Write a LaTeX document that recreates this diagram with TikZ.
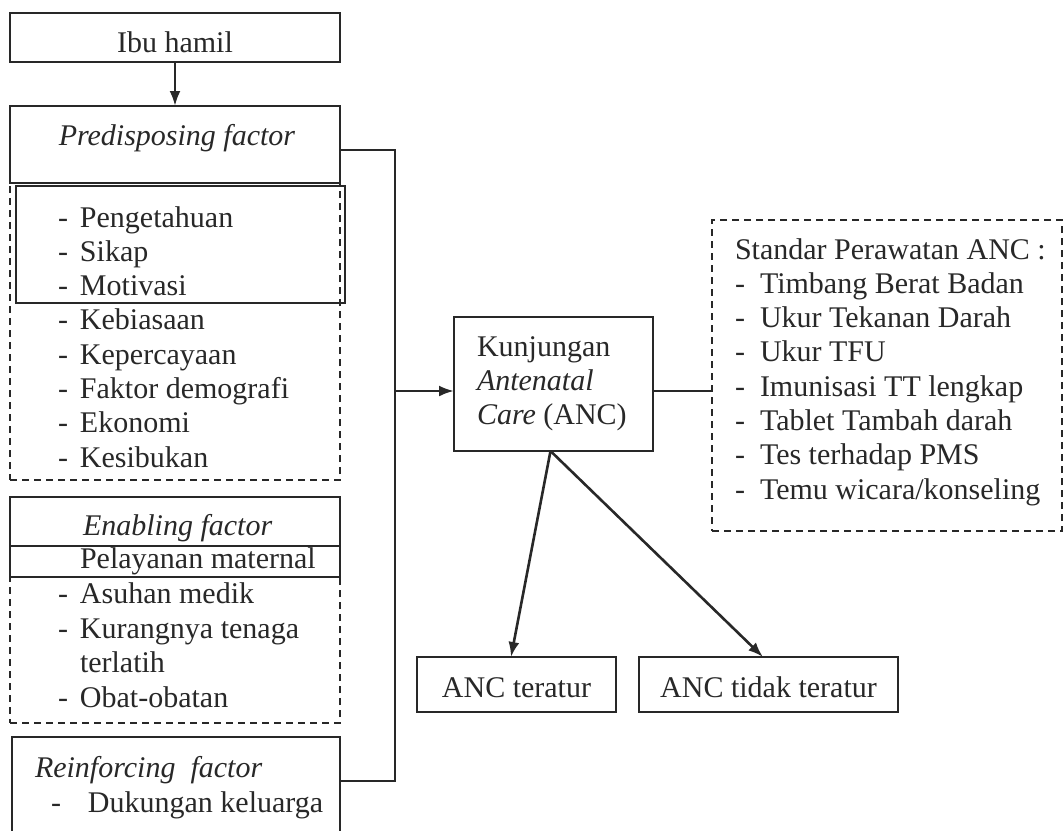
\documentclass[tikz,border=0pt]{standalone}
\usepackage{fontspec}
\setmainfont{Liberation Serif}
\usetikzlibrary{arrows.meta}
\definecolor{ink}{RGB}{40,40,40}
\begin{document}
\begin{tikzpicture}[x=1pt,y=-1pt,
  line width=2.6pt, draw=ink,
  font=\fontsize{30}{34.5}\selectfont,
  box/.style={draw=ink, line width=2.6pt, inner sep=0pt, outer sep=0pt},
  dbox/.style={draw=ink, line width=2.3pt, dash pattern=on 7pt off 5pt, inner sep=0pt, outer sep=0pt},
  txt/.style={inner sep=0pt, outer sep=0pt, anchor=base west, text=ink},
  ctxt/.style={inner sep=0pt, outer sep=0pt, anchor=base, text=ink},
  arr/.style={-{Latex[length=15pt,width=11pt]}}]
\fill[white] (0,0) rectangle (1064,830);
\useasboundingbox (0,0) rectangle (1064,830);

% ---- boxes ----
\node[box, minimum width=330pt, minimum height=49pt] (ibu) at (175,37.5) {};
\node[box, minimum width=330pt, minimum height=77pt] (pred) at (175,144.5) {};
\node[dbox, minimum width=330pt, minimum height=297pt] (predd) at (175,331.5) {};
\node[box, minimum width=329pt, minimum height=117pt] (predin) at (180.5,244.5) {};
\node[box, minimum width=330pt, minimum height=49pt] (enab) at (175,521.5) {};
\node[box, minimum width=330pt, minimum height=31pt] (pel) at (175,561.5) {};
\node[dbox, minimum width=330pt, minimum height=146pt] (enabd) at (175,650) {};
\node[box, minimum width=328pt, minimum height=143pt] (reinf) at (176,808.5) {};
\node[box, minimum width=199pt, minimum height=134pt] (kunj) at (553.5,384) {};
\node[dbox, minimum width=350pt, minimum height=311pt] (std) at (887,375.5) {};
\node[box, minimum width=199pt, minimum height=55pt] (t1) at (516.5,684.5) {};
\node[box, minimum width=259pt, minimum height=55pt] (t2) at (768.5,684.5) {};

% ---- texts ----
\node[ctxt] (ibuT) at (175,52) {Ibu hamil};
\node[ctxt] (predT) at (177,145) {\textit{Predisposing factor}};
\foreach \t [count=\k from 0] in {Pengetahuan,Sikap,Motivasi,Kebiasaan,Kepercayaan,Faktor demografi,Ekonomi,Kesibukan}{
  \node[txt] (pd\k) at (58,227+34.3*\k) {\makebox[22pt][l]{-}\t};
}
\node[txt] (enabT) at (83,535) {\textit{Enabling factor}};
\node[txt] (pelT) at (80,568) {Pelayanan maternal};
\node[txt] (en1) at (58,603) {\makebox[22pt][l]{-}Asuhan medik};
\node[txt] (en2) at (58,638) {\makebox[22pt][l]{-}Kurangnya tenaga};
\node[txt] (en3) at (80,672) {terlatih};
\node[txt] (en4) at (58,707) {\makebox[22pt][l]{-}Obat-obatan};
\node[txt] (reinfT) at (35,777) {\textit{Reinforcing\ \ factor}};
\node[txt] (reinf1) at (51,812) {\makebox[37pt][l]{-}Dukungan keluarga};

\node[txt] (k1) at (477,356) {Kunjungan};
\node[txt] (k2) at (477,390) {\textit{Antenatal}};
\node[txt] (k3) at (477,424) {\textit{Care} (ANC)};

\node[txt] (s0) at (735,259) {Standar Perawatan ANC :};
\foreach \t [count=\k from 1] in {Timbang Berat Badan,Ukur Tekanan Darah,Ukur TFU,Imunisasi TT lengkap,Tablet Tambah darah,Tes terhadap PMS,Temu wicara/konseling}{
  \node[txt] (s\k) at (735,259+34.3*\k) {\makebox[25pt][l]{-}\t};
}

\node[ctxt] (t1T) at (516.5,697) {ANC teratur};
\node[ctxt] (t2T) at (768.5,697) {ANC tidak teratur};

% ---- connectors ----
\coordinate (busT) at (395,150);
\coordinate (busM) at (395,391);
\coordinate (busB) at (395,781);
\draw[arr] (ibu.south) -- (pred.north);
\draw (pred.east |- busT) -- (busT) -- (busB) -- (reinf.east |- busB);
\draw[arr] (busM) -- (kunj.west |- busM);
\draw (kunj.east |- busM) -- (std.west |- busM);
\draw[arr] ([xshift=-3pt]kunj.south) -- ([xshift=-5.5pt]t1.north);
\draw[arr] ([xshift=-3pt]kunj.south) -- ([xshift=-5.5pt]t2.north);
\end{tikzpicture}
\end{document}
